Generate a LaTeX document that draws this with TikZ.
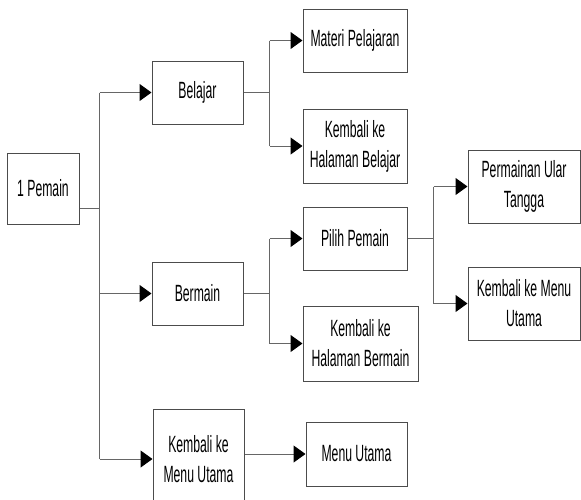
\documentclass[tikz,border=0pt]{standalone}
\usepackage{fontspec}
\setmainfont{Liberation Sans}[FakeStretch=0.52]
\usetikzlibrary{arrows.meta}
\begin{document}
\begin{tikzpicture}[x=1pt,y=-1pt,
    menubox/.style={draw=black!70,line width=1pt,align=center,inner sep=1pt,
        font=\fontsize{23.5}{30}\selectfont},
    link/.style={draw=black!60,line width=1pt},
    arr/.style={link,-{Triangle[length=12pt,width=17pt,color=black]}}]
                \useasboundingbox (0,0) rectangle (581,499);
                % first level
                \node[menubox,minimum width=72,minimum height=71] (pemain) at (43,188.5) {1 Pemain};
                \node[menubox,minimum width=91,minimum height=63] (belajar) at (197.5,92.5) {Belajar};
                \node[menubox,minimum width=91,minimum height=63] (bermain) at (197.5,293.5) {Bermain};
                \node[menubox,minimum width=91,minimum height=100] (kmenu) at (198.5,459) {Kembali ke\\Menu Utama};
                % second level
                \node[menubox,minimum width=104,minimum height=63] (materi) at (355,40.5) {Materi Pelajaran};
                \node[menubox,minimum width=104,minimum height=74] (khbelajar) at (355,146) {Kembali ke\\Halaman Belajar};
                \node[menubox,minimum width=104,minimum height=63] (pilih) at (355,238.5) {Pilih Pemain};
                \node[menubox,minimum width=115,minimum height=75] (khbermain) at (360.5,343.5) {Kembali ke\\Halaman Bermain};
                \node[menubox,minimum width=101,minimum height=64] (utama) at (356.5,454) {Menu Utama};
                % third level
                \node[menubox,minimum width=112,minimum height=73] (ular) at (524,186.5) {Permainan Ular\\Tangga};
                \node[menubox,minimum width=112,minimum height=73] (kmenuu) at (524,303.5) {Kembali ke Menu\\Utama};
                % connectors
                \draw[link] ([yshift=-20pt]pemain.east) -- ++(20,0) coordinate (j0);
                \draw[link] (j0 |- belajar) -- (j0 |- kmenu);
                \foreach \n in {belajar,bermain,kmenu}{
                    \draw[arr] (j0 |- \n) -- (\n.west);
                }
                \draw[link] (belajar.east) -- ++(26,0) coordinate (j1);
                \draw[link] (j1 |- materi) -- (j1 |- khbelajar);
                \foreach \n in {materi,khbelajar}{
                    \draw[arr] (j1 |- \n) -- (\n.west);
                }
                \draw[link] (bermain.east) -- ++(26,0) coordinate (j2);
                \draw[link] (j2 |- pilih) -- (j2 |- khbermain);
                \foreach \n in {pilih,khbermain}{
                    \draw[arr] (j2 |- \n) -- (\n.west);
                }
                \draw[link] (pilih.east) -- ++(26,0) coordinate (j3);
                \draw[link] (j3 |- ular) -- (j3 |- kmenuu);
                \foreach \n in {ular,kmenuu}{
                    \draw[arr] (j3 |- \n) -- (\n.west);
                }
                \draw[arr] (kmenu.east |- utama) -- (utama.west);
            \end{tikzpicture}
\end{document}
